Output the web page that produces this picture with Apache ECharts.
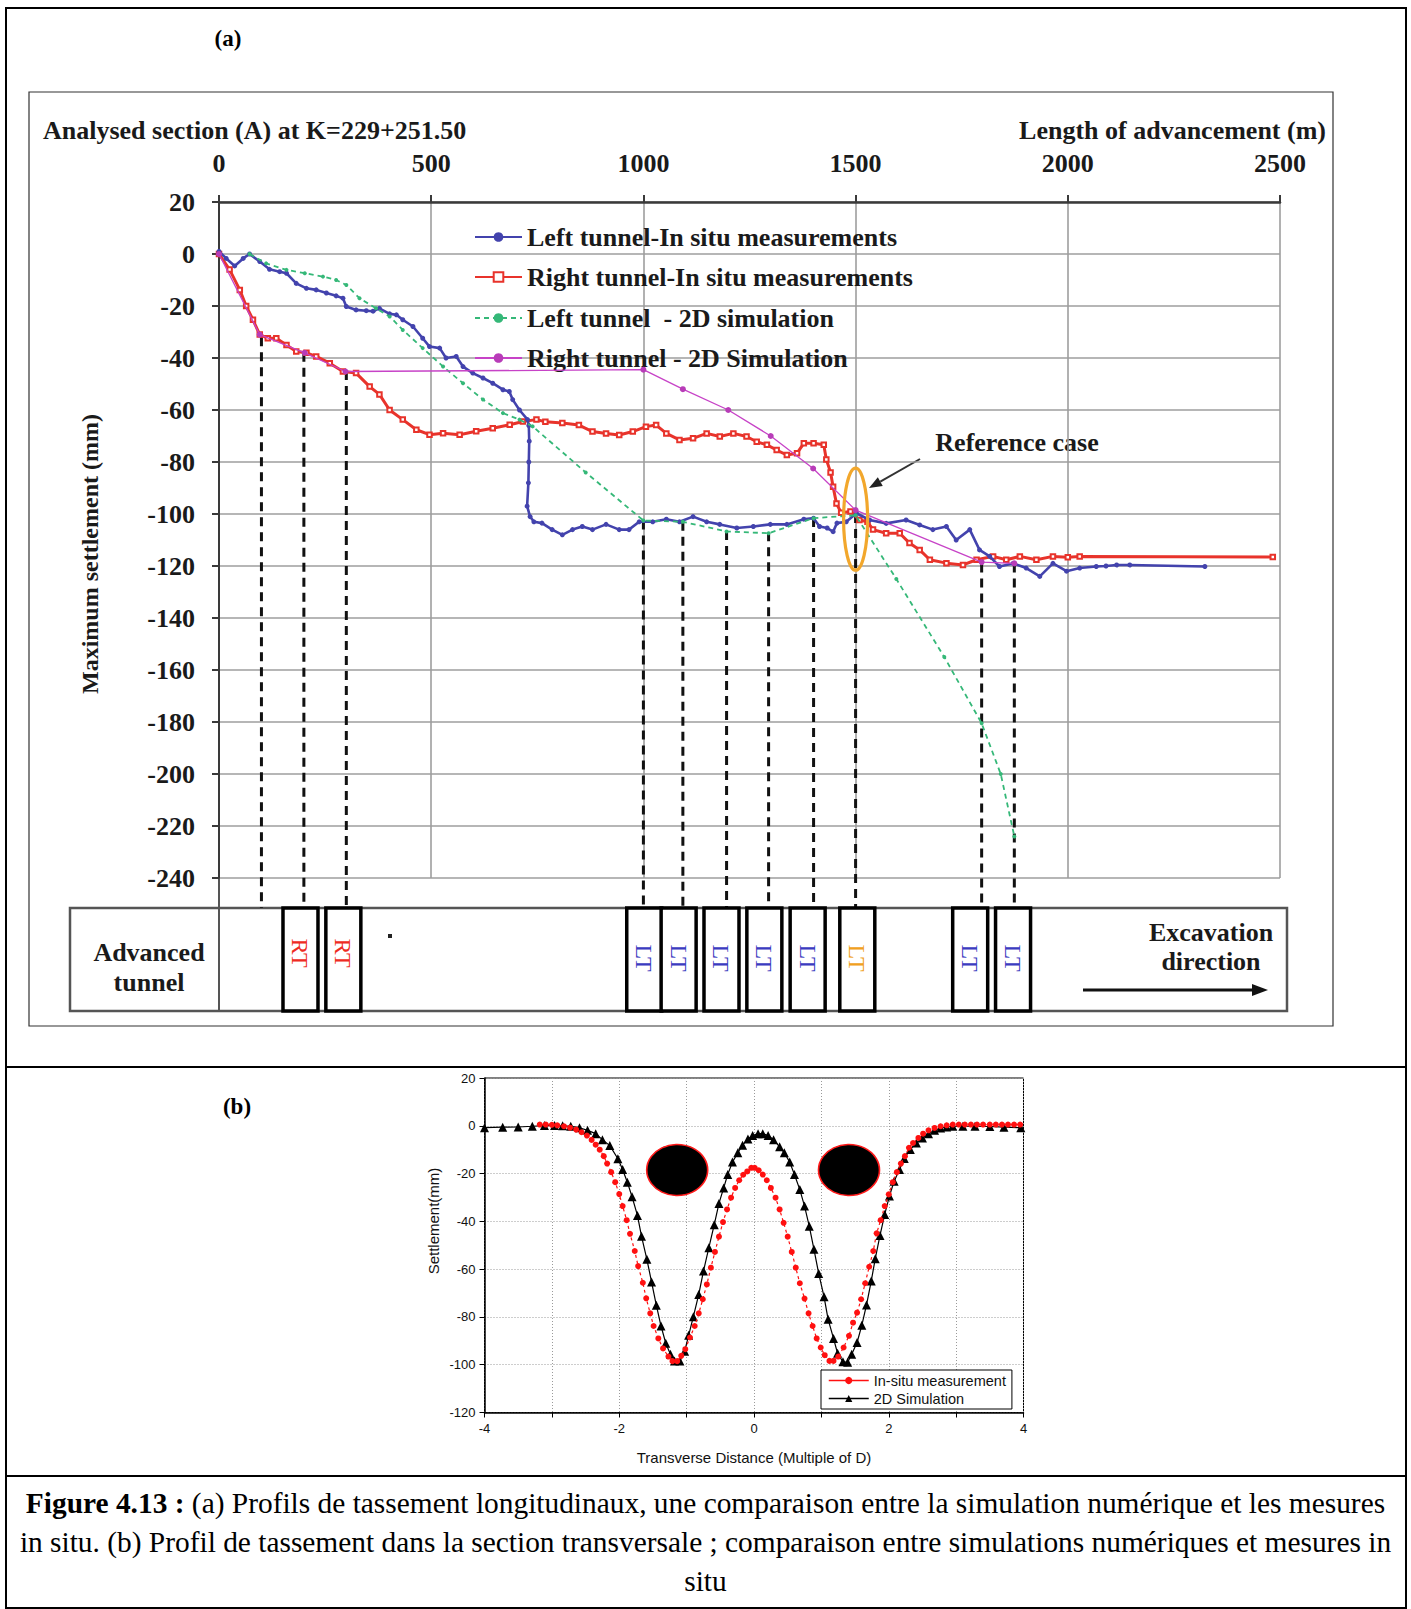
<!DOCTYPE html>
<html>
<head>
<meta charset="utf-8">
<title>Figure 4.13</title>
<script src="https://cdn.jsdelivr.net/npm/echarts@6/dist/echarts.min.js"></script>
<style>
  html, body { margin: 0; padding: 0; background: #fff; }
  #chart { position: absolute; left: 0; top: 0; width: 1411px; height: 1609px; }
  #caption {
    position: absolute; left: 0; top: 1484px; width: 1411px;
    text-align: center; white-space: nowrap;
    font-family: 'Liberation Serif', 'Times New Roman', serif;
    font-size: 29.4px; line-height: 39px; color: #000;
  }
</style>
</head>
<body>
<div id="chart"></div>
<div id="caption"><b>Figure 4.13 :</b> (a) Profils de tassement longitudinaux, une comparaison entre la simulation numérique et les mesures<br>in situ. (b) Profil de tassement dans la section transversale ; comparaison entre simulations numériques et mesures in<br>situ</div>
<script>
// ---------- (a) longitudinal settlement vs. length of advancement ----------
const seriesNamesA = [
  'Left tunnel-In situ measurements',
  'Right tunnel-In situ measurements',
  'Left tunnel  - 2D simulation',
  'Right tunnel - 2D Simulation'
];

// [length of advancement (m), maximum settlement (mm)]
const leftInSitu = [
  [0,1],[17,-1.7],[37,-4.6],[57,-1.7],[72,0],[96,-2.9],[119,-5.9],[143,-6.8],[159,-7.4],
  [182,-11.3],[206,-13.2],[229,-13.8],[253,-15],[276,-16.1],[292,-17],[300,-20.2],[323,-21.5],
  [347,-21.8],[363,-22],[378,-20.9],[402,-23],[418,-23.4],[433,-25.3],[457,-27.9],[480,-32.4],
  [496,-35.6],[520,-36.2],[535,-40],[559,-39.4],[575,-43.3],[598,-45.8],[622,-47.7],[645,-49.7],
  [669,-52.2],[684,-52.9],[692,-56],[708,-60],[727,-63.7],[730,-66],[731,-72],[730,-80],
  [729,-88],[726,-97],[733,-101],[742,-103],[761,-103.5],[785,-106],[809,-108],[833,-106],
  [856,-104.8],[880,-106],[912,-104],[943,-106],[966,-106],[990,-103],[1022,-103],[1054,-102],
  [1085,-103],[1117,-101],[1149,-103],[1180,-104],[1220,-105.4],[1259,-104.8],[1299,-104],
  [1338,-104],[1378,-102],[1401,-101.6],[1415,-104.8],[1433,-105.4],[1447,-106.8],[1456,-103.5],
  [1478,-103],[1502,-99.7],[1533,-102.3],[1572,-103.6],[1619,-102.3],[1651,-104.2],[1682,-106],
  [1714,-104.8],[1737,-110],[1769,-106],[1792,-113.8],[1816,-116.3],[1839,-120.2],[1871,-119],
  [1902,-120.8],[1934,-124],[1965,-119],[1997,-122],[2028,-120.8],[2067,-120.2],[2090,-120],
  [2115,-119.6],[2146,-119.6],[2323,-120.2]
];

const rightInSitu = [
  [0,0],[25,-6],[49,-13.8],[64,-20],[80,-25.3],[96,-31],[115,-32.4],[135,-32.4],[159,-35],
  [182,-37.5],[206,-38],[229,-39.4],[261,-42],[292,-45.2],[323,-45.8],[355,-51],[378,-54],
  [402,-60],[433,-63.7],[465,-67.6],[496,-69.5],[528,-68.9],[567,-69.5],[606,-68.2],[645,-67],
  [685,-65.7],[716,-64.4],[748,-63.7],[769,-64.5],[809,-65],[848,-65.8],[880,-68.3],[912,-69],
  [943,-69.6],[975,-68.3],[1006,-66.4],[1030,-65.8],[1054,-69],[1085,-71.5],[1117,-70.9],
  [1149,-69],[1180,-70.2],[1212,-69],[1243,-70.2],[1267,-72.2],[1291,-73.4],[1314,-75.4],
  [1338,-77.3],[1362,-76.6],[1378,-72.8],[1401,-72.8],[1425,-73.4],[1431,-79],[1441,-84],
  [1447,-89.5],[1455,-96],[1466,-99.5],[1488,-99],[1509,-102.3],[1528,-103],[1541,-106],
  [1572,-107.4],[1604,-107.4],[1627,-111.2],[1651,-113.8],[1675,-117.6],[1714,-118.9],
  [1753,-119.6],[1785,-117.6],[1824,-116.3],[1855,-117.6],[1887,-116.3],[1926,-117.6],
  [1965,-116.3],[2000,-116.6],[2028,-116.3],[2483,-116.5]
];

const leftSim2D = [
  [72,0],[111,-3.6],[159,-6.1],[202,-7.4],[245,-8.7],[276,-10],[300,-11.9],[331,-17],[370,-20.9],
  [402,-24],[433,-29.2],[480,-36.2],[528,-43.3],[575,-49.7],[622,-56],[669,-61.2],[708,-63.7],
  [739,-66.3],[864,-84],[1000,-102.5],[1093,-103],[1196,-106.7],[1295,-107.4],[1401,-101.6],
  [1500,-100.5],[1596,-125],[1709,-155],[1797,-180.5],[1842,-200],[1874,-224]
];

const rightSim2D = [
  [0,0],[96,-31],[202,-38],[298,-45.2],[1000,-44.5],[1093,-52],[1200,-60],[1300,-70],
  [1400,-82.5],[1500,-98.5],[1797,-118.5],[1874,-119]
];

// positions where the advanced-tunnel face is projected: [length (m), settlement (mm)]
const tunnelMarks = [
  [100,-32],[200,-38],[300,-45],[1000,-102.5],[1093,-103],[1196,-106.5],[1295,-107],
  [1401,-101.5],[1500,-100],[1797,-119],[1874,-119]
];
// advanced-tunnel boxes below the plot (length of advancement, m)
const boxCenters = [192, 293, 1002, 1083, 1184, 1285, 1387, 1504, 1770, 1871];
const boxLabels  = ['RT','RT','LT','LT','LT','LT','LT','LT','LT','LT'];
const referenceBox = 7;            // the reference case
const referencePoint = [1500, -102];

// ---------- (b) transverse settlement profile ----------
const seriesNamesB = ['In-situ measurement', '2D Simulation'];
// [transverse distance (multiple of D), settlement (mm)]
const insituProfile = [
  [-3.18,0.5],[-3.09,0.5],[-3.0,0.4],[-2.92,0.2],[-2.82,-0.2],[-2.73,-0.8],[-2.64,-1.6],[-2.56,-2.7],
  [-2.48,-4.1],[-2.41,-5.9],[-2.35,-7.9],[-2.29,-10],[-2.23,-12.7],[-2.18,-15.8],[-2.12,-19.4],
  [-2.06,-23.6],[-2.0,-28.6],[-1.95,-33.6],[-1.89,-39.5],[-1.84,-45.2],[-1.77,-52.4],[-1.72,-58.7],
  [-1.65,-65.7],[-1.6,-72.2],[-1.54,-78.5],[-1.49,-83.8],[-1.42,-89],[-1.35,-93.2],[-1.27,-96.6],
  [-1.21,-98.5],[-1.14,-98.5],[-1.08,-96.3],[-1.02,-93.5],[-0.95,-88.6],[-0.88,-83.8],[-0.82,-78.5],
  [-0.76,-72.6],[-0.7,-66.4],[-0.64,-59.4],[-0.58,-52.8],[-0.52,-46.4],[-0.46,-40.3],[-0.4,-35],
  [-0.34,-30.1],[-0.28,-26],[-0.22,-22.8],[-0.16,-20.5],[-0.1,-19.1],[-0.04,-17.6],[0.01,-17.6],
  [0.07,-18.6],[0.13,-20.4],[0.19,-22.8],[0.25,-26],[0.32,-30.1],[0.38,-35],[0.44,-40.6],[0.5,-46.4],
  [0.56,-52.8],[0.62,-59.4],[0.68,-65.9],[0.75,-72.3],[0.81,-78.5],[0.87,-83.8],[0.93,-89],
  [0.99,-92.8],[1.05,-96],[1.12,-98.4],[1.18,-98.4],[1.25,-96.6],[1.33,-92.8],[1.41,-87.9],
  [1.47,-82.4],[1.53,-78.2],[1.59,-72.6],[1.65,-65.9],[1.71,-59],[1.77,-52.4],[1.82,-45],
  [1.88,-39.5],[1.94,-33.6],[2.0,-28.7],[2.06,-23.6],[2.12,-19.4],[2.18,-15.8],[2.24,-12.7],
  [2.3,-9.2],[2.36,-7.2],[2.44,-5.1],[2.51,-3.3],[2.59,-1.9],[2.68,-0.9],[2.77,-0.2],[2.86,0.2],
  [2.95,0.5],[3.04,0.5],[3.13,0.5],[3.22,0.5],[3.31,0.5],[3.4,0.5],[3.5,0.5],[3.59,0.5],
  [3.68,0.5],[3.77,0.5],[3.86,0.5],[3.95,0.5]
];
const simProfile = [
  [-4,-0.8],[-3.73,-0.6],[-3.5,-0.5],[-3.29,-0.2],[-3.11,0.1],[-2.96,0.1],[-2.84,0],[-2.72,-0.2],
  [-2.59,-0.8],[-2.47,-1.9],[-2.35,-3.3],[-2.25,-5.8],[-2.14,-8.3],[-2.02,-13.8],[-1.95,-18.3],
  [-1.88,-23.6],[-1.81,-29.7],[-1.73,-37.5],[-1.67,-46.2],[-1.59,-55.9],[-1.52,-65.4],[-1.45,-75.1],
  [-1.38,-83.8],[-1.31,-91],[-1.24,-95.6],[-1.18,-98.4],[-1.1,-98.4],[-1.03,-94.4],[-0.97,-87.7],
  [-0.9,-79.9],[-0.82,-70.6],[-0.75,-60.8],[-0.67,-51],[-0.59,-41.4],[-0.52,-32.5],[-0.45,-26],
  [-0.39,-20.4],[-0.32,-15.2],[-0.24,-11.3],[-0.17,-8.1],[-0.09,-5.5],[-0.02,-4.1],[0.06,-3.3],
  [0.13,-3.3],[0.21,-4.1],[0.29,-5.8],[0.38,-8.8],[0.45,-11.3],[0.53,-15.2],[0.6,-20.4],
  [0.68,-26.7],[0.75,-33.6],[0.82,-42],[0.89,-51.7],[0.96,-61.8],[1.04,-71.6],[1.1,-81],
  [1.18,-89],[1.24,-95.2],[1.32,-98.8],[1.39,-99],[1.45,-95.6],[1.53,-90.7],[1.6,-83.5],
  [1.67,-75],[1.74,-65],[1.8,-55.6],[1.87,-45.9],[1.94,-37.1],[2.01,-29.4],[2.08,-23.2],
  [2.16,-18.3],[2.23,-13.7],[2.32,-9.9],[2.41,-7.2],[2.5,-5.1],[2.59,-3.3],[2.68,-1.9],
  [2.77,-0.9],[2.86,-0.5],[2.95,-0.2],[3.1,-0.2],[3.28,-0.2],[3.5,-0.3],[3.71,-0.6],[3.96,-0.8]
];
// tunnel cross-sections drawn above the troughs
const tunnelCentres = [[-1.14,-18.5],[1.41,-18.5]];

// ---------- styling ----------
const SERIF = "'Liberation Serif', 'Times New Roman', serif";
const SANS = "'Liberation Sans', Arial, sans-serif";
const C_BLUE = '#4343ad', C_RED = '#e8332b', C_GREEN = '#35b878', C_MAG = '#c743c7';
const GRID_A = { left: 219, top: 202, width: 1061, height: 676 };
const BOX_TOP = 908, BOX_BOTTOM = 1011;

const chart = echarts.init(document.getElementById('chart'), null, { renderer: 'svg', width: 1411, height: 1609 });

const boldSerif = (size, extra) => Object.assign({ fontFamily: SERIF, fontWeight: 'bold', fontSize: size, color: '#1a1a1a' }, extra || {});

function legendA(i, top) {
  return {
    data: [seriesNamesA[i]], left: 474, top: top, orient: 'horizontal', padding: 0,
    itemWidth: 47, itemHeight: 12, itemGap: 6, selectedMode: false,
    textStyle: boldSerif(26)
  };
}

function txt(x, y, text, font, extra) {
  return Object.assign({
    type: 'text', x: x, y: y, silent: true,
    style: Object.assign({ text: text, fill: '#1a1a1a', align: 'center', verticalAlign: 'middle' }, font)
  }, extra || {});
}

// arrowhead for the "Reference case" pointer
const arrowFrom = [920, 459], arrowTip = [869, 488];
const dx = arrowTip[0] - arrowFrom[0], dy = arrowTip[1] - arrowFrom[1];
const dl = Math.hypot(dx, dy), ux = dx / dl, uy = dy / dl;
const hb = [arrowTip[0] - 13 * ux, arrowTip[1] - 13 * uy];
const arrowHead = [arrowTip, [hb[0] - 5 * uy, hb[1] + 5 * ux], [hb[0] + 5 * uy, hb[1] - 5 * ux]];

const option = {
  animation: false,
  backgroundColor: '#fff',
  grid: [
    GRID_A,
    { left: 484.5, top: 1078, width: 539, height: 334.5, show: true, borderColor: '#000', borderWidth: 1 }
  ],
  xAxis: [
    {
      gridIndex: 0, type: 'value', position: 'top', min: 0, max: 2500, interval: 500,
      axisLine: { show: true, onZero: false, lineStyle: { color: '#3a3a3a', width: 2.5 } },
      axisTick: { show: true, length: 7, lineStyle: { color: '#3a3a3a', width: 2 } },
      axisLabel: Object.assign({ margin: 26, formatter: v => String(v) }, boldSerif(26)),
      splitLine: { show: true, lineStyle: { color: '#9e9e9e', width: 1.6 } }
    },
    {
      gridIndex: 1, type: 'value', min: -4, max: 4, interval: 1,
      axisLine: { show: true, onZero: false, lineStyle: { color: '#000', width: 1.5 } },
      axisTick: { show: true, length: 5, lineStyle: { color: '#000', width: 1 } },
      axisLabel: { margin: 9, fontFamily: SANS, fontSize: 13, color: '#111',
        formatter: v => (Math.round(v) % 2 === 0 ? String(v) : '') },
      splitLine: { show: true, lineStyle: { color: '#9a9a9a', width: 1, type: [1, 2] } }
    }
  ],
  yAxis: [
    {
      gridIndex: 0, type: 'value', min: -240, max: 20, interval: 20,
      axisLine: { show: true, onZero: false, lineStyle: { color: '#3a3a3a', width: 2 } },
      axisTick: { show: true, length: 7, lineStyle: { color: '#3a3a3a', width: 2 } },
      axisLabel: Object.assign({ margin: 24 }, boldSerif(26)),
      splitLine: { show: true, lineStyle: { color: '#9e9e9e', width: 1.6 } }
    },
    {
      gridIndex: 1, type: 'value', min: -120, max: 20, interval: 20,
      axisLine: { show: true, onZero: false, lineStyle: { color: '#000', width: 1.5 } },
      axisTick: { show: true, length: 5, lineStyle: { color: '#000', width: 1 } },
      axisLabel: { margin: 9, fontFamily: SANS, fontSize: 13, color: '#111' },
      splitLine: { show: true, lineStyle: { color: '#9a9a9a', width: 1, type: [1, 2] } }
    }
  ],
  legend: [
    legendA(0, 224), legendA(1, 264), legendA(2, 305), legendA(3, 345),
    {
      data: seriesNamesB, left: 821, top: 1370, orient: 'vertical', selectedMode: false,
      backgroundColor: '#fff', borderColor: '#000', borderWidth: 1, borderRadius: 0,
      padding: [3, 6, 3, 7], itemWidth: 40, itemHeight: 9, itemGap: 3,
      lineStyle: { type: 'solid', width: 1.5 },
      textStyle: { fontFamily: SANS, fontSize: 14.5, color: '#111' }
    }
  ],
  graphic: [
    // frames
    { type: 'rect', silent: true, shape: { x: 6, y: 8, width: 1400, height: 1600 }, style: { fill: 'none', stroke: '#000', lineWidth: 2 } },
    { type: 'line', silent: true, shape: { x1: 6, y1: 1067, x2: 1406, y2: 1067 }, style: { stroke: '#000', lineWidth: 2 } },
    { type: 'line', silent: true, shape: { x1: 6, y1: 1476, x2: 1406, y2: 1476 }, style: { stroke: '#000', lineWidth: 2 } },
    { type: 'rect', silent: true, shape: { x: 29, y: 92, width: 1304, height: 934 }, style: { fill: 'none', stroke: '#333', lineWidth: 1.2 } },
    // panel labels
    txt(228, 38, '(a)', { fontFamily: SERIF, fontWeight: 'bold', fontSize: 23, fill: '#000' }),
    txt(237, 1106, '(b)', { fontFamily: SERIF, fontWeight: 'bold', fontSize: 23, fill: '#000' }),
    // (a) titles
    txt(43, 130, 'Analysed section (A) at K=229+251.50', { fontFamily: SERIF, fontWeight: 'bold', fontSize: 26, align: 'left' }),
    txt(1326, 130, 'Length of advancement (m)', { fontFamily: SERIF, fontWeight: 'bold', fontSize: 26, align: 'right' }),
    txt(90, 554, 'Maximum settlement (mm)', { fontFamily: SERIF, fontWeight: 'bold', fontSize: 24 }, { rotation: Math.PI / 2 }),
    txt(1017, 442, 'Reference case', { fontFamily: SERIF, fontWeight: 'bold', fontSize: 26 }),
    { type: 'line', silent: true, shape: { x1: arrowFrom[0], y1: arrowFrom[1], x2: hb[0], y2: hb[1] }, style: { stroke: '#333', lineWidth: 2 } },
    { type: 'polygon', silent: true, shape: { points: arrowHead }, style: { fill: '#222' } },
    // advanced tunnel strip
    { type: 'rect', silent: true, shape: { x: 70, y: BOX_TOP, width: 1217, height: BOX_BOTTOM - BOX_TOP }, style: { fill: 'none', stroke: '#555', lineWidth: 2.5 } },
    { type: 'line', silent: true, shape: { x1: 219, y1: GRID_A.top + GRID_A.height, x2: 219, y2: BOX_BOTTOM }, style: { stroke: '#555', lineWidth: 2 } },
    txt(149, 967, 'Advanced\ntunnel', { fontFamily: SERIF, fontWeight: 'bold', fontSize: 26, lineHeight: 30 }),
    txt(1211, 947, 'Excavation\ndirection', { fontFamily: SERIF, fontWeight: 'bold', fontSize: 26, lineHeight: 29 }),
    { type: 'line', silent: true, shape: { x1: 1083, y1: 990, x2: 1254, y2: 990 }, style: { stroke: '#111', lineWidth: 3 } },
    { type: 'polygon', silent: true, shape: { points: [[1268, 990], [1252, 984], [1252, 996]] }, style: { fill: '#111' } },
    { type: 'rect', silent: true, shape: { x: 388, y: 934, width: 4, height: 4 }, style: { fill: '#222' } },
    // (b) axis titles
    txt(433, 1221, 'Settlement(mm)', { fontFamily: SANS, fontSize: 15, fill: '#111' }, { rotation: Math.PI / 2 }),
    txt(754, 1457, 'Transverse Distance (Multiple of D)', { fontFamily: SANS, fontSize: 15, fill: '#111' })
  ],
  series: [
    // projections of the tunnel face down to the strip
    {
      type: 'custom', xAxisIndex: 0, yAxisIndex: 0, clip: false, silent: true, z: 3,
      data: tunnelMarks,
      renderItem: (params, api) => {
        const top = api.coord([api.value(0), api.value(1)]);
        return {
          type: 'line',
          shape: { x1: top[0], y1: top[1], x2: top[0], y2: BOX_TOP },
          style: { stroke: '#111', lineWidth: 3, lineDash: [9, 6] }
        };
      }
    },
    // advanced tunnel boxes
    {
      type: 'custom', xAxisIndex: 0, yAxisIndex: 0, clip: false, silent: true, z: 4,
      data: boxCenters.map((c, i) => [c, -240, i]),
      renderItem: (params, api) => {
        const cx = api.coord([api.value(0), -240])[0];
        const i = api.value(2);
        const label = boxLabels[i];
        const color = i === referenceBox ? '#f0a020' : (label === 'RT' ? '#ee2b22' : '#3b3bc0');
        return {
          type: 'group',
          children: [
            { type: 'rect', shape: { x: cx - 17.5, y: BOX_TOP, width: 35, height: BOX_BOTTOM - BOX_TOP },
              style: { fill: '#fff', stroke: '#000', lineWidth: 3.5 } },
            { type: 'text', x: cx, y: label === 'RT' ? 953 : 958, rotation: -Math.PI / 2,
              style: { text: label, fill: color, fontFamily: SERIF, fontSize: 24, align: 'center', verticalAlign: 'middle' } }
          ]
        };
      }
    },
    {
      name: seriesNamesA[1], type: 'line', xAxisIndex: 0, yAxisIndex: 0, z: 5,
      data: rightInSitu, symbol: 'emptyRect', symbolSize: 4.5, showAllSymbol: true,
      lineStyle: { color: C_RED, width: 3 }, itemStyle: { color: C_RED, borderColor: C_RED, borderWidth: 1.5 }
    },
    {
      name: seriesNamesA[0], type: 'line', xAxisIndex: 0, yAxisIndex: 0, z: 6,
      data: leftInSitu, symbol: 'circle', symbolSize: 5, showAllSymbol: true,
      lineStyle: { color: C_BLUE, width: 2.6 }, itemStyle: { color: C_BLUE }
    },
    {
      name: seriesNamesA[2], type: 'line', xAxisIndex: 0, yAxisIndex: 0, z: 7,
      data: leftSim2D, symbol: 'circle', symbolSize: 4, showAllSymbol: true,
      lineStyle: { color: C_GREEN, width: 1.8, type: [5, 4] }, itemStyle: { color: C_GREEN }
    },
    {
      name: seriesNamesA[3], type: 'line', xAxisIndex: 0, yAxisIndex: 0, z: 8,
      data: rightSim2D, symbol: 'circle', symbolSize: 6, showAllSymbol: true,
      lineStyle: { color: C_MAG, width: 1.3 }, itemStyle: { color: '#b83cb8' }
    },
    // reference case marker
    {
      type: 'custom', xAxisIndex: 0, yAxisIndex: 0, clip: false, silent: true, z: 9,
      data: [referencePoint],
      renderItem: (params, api) => {
        const p = api.coord([api.value(0), api.value(1)]);
        return { type: 'ellipse', shape: { cx: p[0], cy: p[1], rx: 12, ry: 51 },
          style: { fill: 'none', stroke: '#f2a72c', lineWidth: 3.2 } };
      }
    },
    // (b) tunnels
    {
      type: 'scatter', xAxisIndex: 1, yAxisIndex: 1, silent: true, z: 3,
      data: tunnelCentres, symbol: 'circle', symbolSize: [61, 51],
      itemStyle: { color: '#000', opacity: 1, borderColor: '#ff1a1a', borderWidth: 1.5 }
    },
    {
      name: seriesNamesB[0], type: 'line', xAxisIndex: 1, yAxisIndex: 1, z: 5,
      data: insituProfile, symbol: 'circle', symbolSize: 6, showAllSymbol: true,
      lineStyle: { color: '#ff1010', width: 1.2, type: [3, 3] }, itemStyle: { color: '#ff1010' }
    },
    {
      name: seriesNamesB[1], type: 'line', xAxisIndex: 1, yAxisIndex: 1, z: 4,
      data: simProfile, symbol: 'triangle', symbolSize: 9, showAllSymbol: true,
      lineStyle: { color: '#000', width: 1.2 }, itemStyle: { color: '#000' }
    }
  ]
};

chart.setOption(option);
</script>
</body>
</html>
